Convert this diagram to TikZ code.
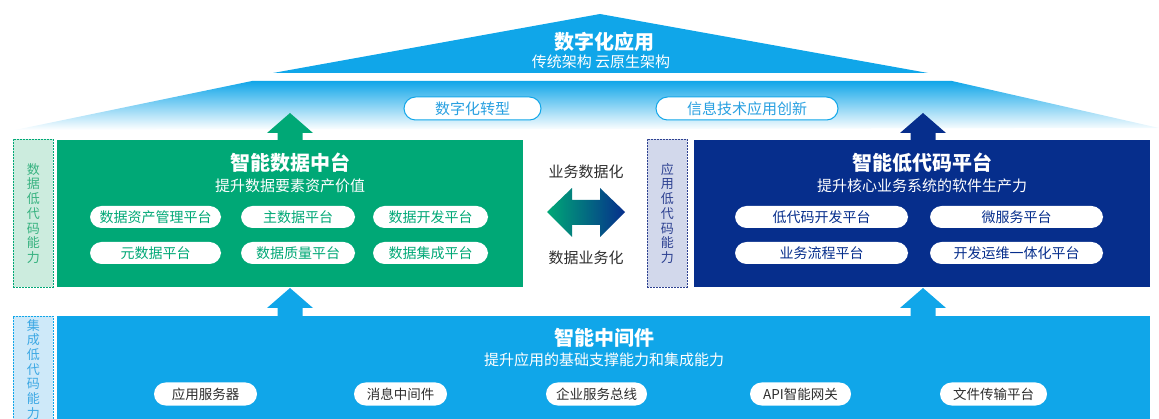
\documentclass[tikz,border=0pt]{standalone}
\usepackage{fontspec}
\setmainfont{Noto Sans CJK SC}
\usetikzlibrary{calc}
\definecolor{sky}{RGB}{16,166,233}
\definecolor{gr}{RGB}{0,168,118}
\definecolor{navy}{RGB}{6,46,140}
\definecolor{skytxt}{RGB}{40,160,225}
\definecolor{darktxt}{RGB}{45,45,45}
\definecolor{grlight}{RGB}{204,236,222}
\definecolor{navylight}{RGB}{210,216,235}
\definecolor{skylight}{RGB}{206,233,249}
\definecolor{grtxt}{RGB}{55,178,128}
\definecolor{navytxt}{RGB}{45,65,145}
\definecolor{skyvtxt}{RGB}{60,168,228}
\newcommand\blkup[4]{%
  \fill[#3] (#1) -- ($(#1)+(23,#4)$) -- ($(#1)+(12.5,#4)$)
    -- ($(#1 |- #2)+(12.5,0)$) -- ($(#1 |- #2)+(-12.5,0)$)
    -- ($(#1)+(-12.5,#4)$) -- ($(#1)+(-23,#4)$) -- cycle;}
\tikzset{
  panel/.style={inner sep=0pt, anchor=north west},
  pill/.style={fill=white, rounded corners=11.5pt, minimum height=23pt, inner sep=0pt},
  toppill/.style={pill, draw=sky, line width=1pt, text=skytxt, font=\fontsize{15}{18}\selectfont},
  grpill/.style={pill, text=gr, font=\fontsize{14}{17}\selectfont, minimum height=22pt},
  nvpill/.style={pill, text=navy, font=\fontsize{14}{17}\selectfont, minimum height=22pt},
  btpill/.style={pill, text=darktxt, font=\fontsize{13.5}{16}\selectfont},
  vbox/.style={panel, dashed, dash pattern=on 2pt off 1pt, line width=0.8pt, minimum width=40pt},
  vtext/.style={align=center, font=\fontsize{13}{14.7}\selectfont, inner sep=0pt},
  ttl/.style={text=white, font=\fontsize{20}{24}\selectfont\bfseries, inner sep=0pt},
  sub/.style={text=white, font=\fontsize{15}{18}\selectfont, inner sep=0pt},
  midtxt/.style={text=darktxt, font=\fontsize{15}{18}\selectfont, inner sep=0pt},
}
\begin{document}
\begin{tikzpicture}[x=1pt,y=-1pt]
\useasboundingbox (0,0) rectangle (1159,419);
\clip (0,0) rectangle (1159,419);
% top roof
\fill[sky] (273,73) -- (600,14) -- (928,73) -- cycle;
\node[ttl] (apptitle) at (604,42) {数字化应用};
\node[sub] (appsub) at (601,62) {传统架构 云原生架构};
\shade[top color=sky, bottom color=white] (252,81) -- (952,81) -- (1159,128) -- (15,130) -- cycle;
\node[toppill, minimum width=137pt] (p1) at (472.5,108.5) {数字化转型};
\node[toppill, minimum width=182pt] (p2) at (747,108.5) {信息技术应用创新};
% green panel
\node[panel, fill=gr, minimum width=466pt, minimum height=147pt] (gbox) at (57,140) {};
\node[vbox, fill=grlight, draw=gr, minimum height=148pt] (gv) at (13,139) {};
\node[vtext, text=grtxt] at (gv.center) {数\\据\\低\\代\\码\\能\\力};
\node[ttl] (gtitle) at (290,163) {智能数据中台};
\node[sub] (gsub) at (290,186) {提升数据要素资产价值};
\node[grpill, minimum width=131pt] (g1) at (155.5,217) {数据资产管理平台};
\node[grpill, minimum width=114pt] (g2) at (298,217) {主数据平台};
\node[grpill, minimum width=115pt] (g3) at (430.5,217) {数据开发平台};
\node[grpill, minimum width=131pt] (g4) at (155.5,253) {元数据平台};
\node[grpill, minimum width=114pt] (g5) at (298,253) {数据质量平台};
\node[grpill, minimum width=115pt] (g6) at (430.5,253) {数据集成平台};
% navy panel
\node[panel, fill=navy, minimum width=456pt, minimum height=147pt] (nbox) at (694,140) {};
\node[vbox, fill=navylight, draw=navytxt, minimum height=148pt] (nv) at (647,139) {};
\node[vtext, text=navytxt] at (nv.center) {应\\用\\低\\代\\码\\能\\力};
\node[ttl] (ntitle) at (922,163) {智能低代码平台};
\node[sub] (nsub) at (922,186) {提升核心业务系统的软件生产力};
\node[nvpill, minimum width=173pt] (n1) at (821.5,217) {低代码开发平台};
\node[nvpill, minimum width=173pt] (n2) at (1016.5,217) {微服务平台};
\node[nvpill, minimum width=173pt] (n3) at (821.5,253) {业务流程平台};
\node[nvpill, minimum width=173pt] (n4) at (1016.5,253) {开发运维一体化平台};
% middle exchange
\node[midtxt] (m1) at (586,172) {业务数据化};
\node[midtxt] (m2) at (586,258) {数据业务化};
\coordinate (dc) at (586,212);
\shade[left color=gr, right color=navy]
  ($(dc)+(-39,0)$) -- ($(dc)+(-14,-24)$) -- ($(dc)+(-14,-12)$) -- ($(dc)+(14,-12)$)
  -- ($(dc)+(14,-24)$) -- ($(dc)+(39,0)$) -- ($(dc)+(14,25)$) -- ($(dc)+(14,13)$)
  -- ($(dc)+(-14,13)$) -- ($(dc)+(-14,25)$) -- cycle;
% bottom panel
\node[panel, fill=sky, minimum width=1093pt, minimum height=120pt] (mbox) at (57,316) {};
\node[vbox, fill=skylight, draw=sky, minimum height=150pt] (bv) at (13,316) {};
\node[vtext, text=skyvtxt, anchor=north] at ($(bv.north)+(0,3)$) {集\\成\\低\\代\\码\\能\\力};
\node[ttl] (mtitle) at (604,338) {智能中间件};
\node[sub] (msub) at (604,360) {提升应用的基础支撑能力和集成能力};
\node[btpill, minimum width=103pt] (b1) at (205.5,394) {应用服务器};
\node[btpill, minimum width=93pt] (b2) at (400.5,394) {消息中间件};
\node[btpill, minimum width=101pt] (b3) at (596.5,394) {企业服务总线};
\node[btpill, minimum width=101pt] (b4) at (800.5,394) {API智能网关};
\node[btpill, minimum width=107pt] (b5) at (993.5,394) {文件传输平台};
% block arrows
\coordinate (t1) at (290,113);
\coordinate (t2) at (923,113);
\coordinate (t3) at (290,288);
\coordinate (t4) at (923,288);
\blkup{t1}{gbox.north}{gr}{20}
\blkup{t2}{nbox.north}{navy}{20}
\blkup{t3}{mbox.north}{sky}{20}
\blkup{t4}{mbox.north}{sky}{20}
\end{tikzpicture}
\end{document}
